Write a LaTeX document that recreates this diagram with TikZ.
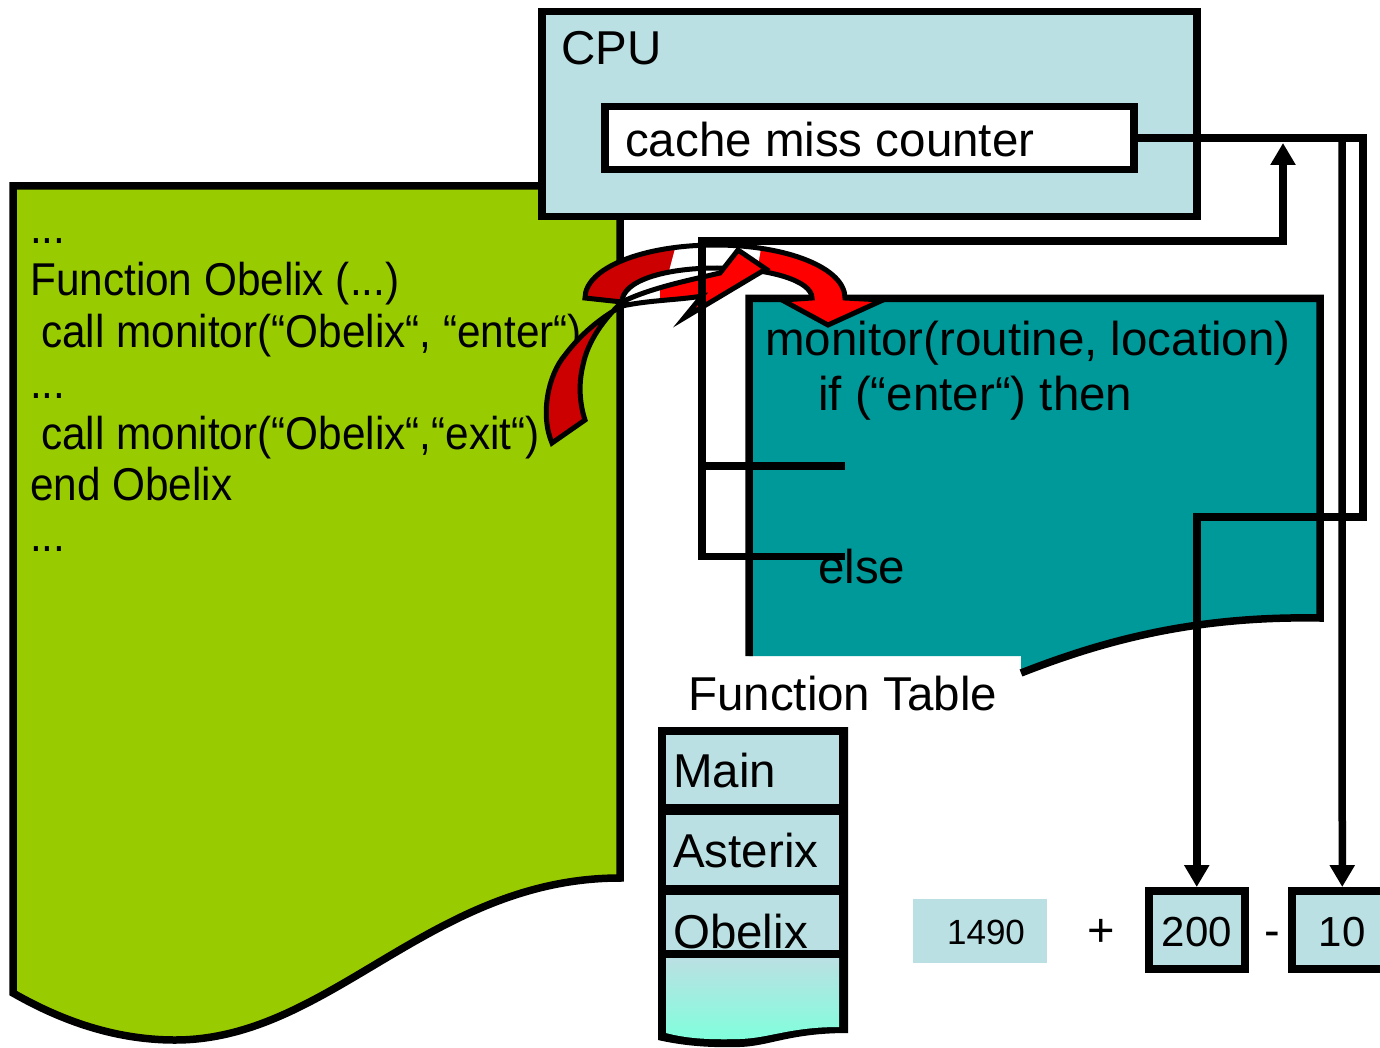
\documentclass[tikz,border=0pt]{standalone}
\usepackage{fontspec}
\usepackage{graphicx}
\setmainfont{Liberation Sans}
\usetikzlibrary{arrows.meta}
\definecolor{grn}{HTML}{99CC00}
\definecolor{tealc}{HTML}{009999}
\definecolor{lblue}{HTML}{BBE0E3}
\definecolor{dred}{HTML}{CC0000}
\definecolor{bred}{HTML}{FF0000}
\definecolor{aquac}{HTML}{80FFDC}
\newcommand\cdl[1]{\scalebox{0.92}[1]{#1}}
\begin{document}
\begin{tikzpicture}[x=1pt,y=-1pt,line join=miter,
  conn/.style={line width=7.5pt},
  tipa/.style={-{Triangle[length=22pt,width=24pt]}},
  txt/.style={inner sep=0pt,anchor=base west,font=\fontsize{47.5}{56}\selectfont},
  codetxt/.style={inner sep=0pt,anchor=base west,font=\fontsize{46}{52}\selectfont},
  numtxt/.style={inner sep=0pt,anchor=base,font=\fontsize{42}{48}\selectfont},
  boxst/.style={draw,line width=7.5pt,fill=lblue,inner sep=0pt,anchor=north west},
  cellst/.style={fill=lblue,inner sep=0pt,outer sep=0pt,anchor=north west,minimum width=173},
  aout/.style={draw=black,line width=5pt,line join=miter}]
\useasboundingbox (0,0) rectangle (1380,1048);

% green program document
\filldraw[fill=grn,line width=7.5pt] (13,186) -- (620,186) -- (620,878)
  .. controls (430,878) and (330,1040) .. (175,1040)
  .. controls (110,1040) and (55,1017) .. (13,993) -- cycle;

% CPU
\node[boxst,minimum width=655,minimum height=205] (cpu) at (538,8) {};
\node[txt] (cputxt) at (561,65) {CPU};
\node[boxst,fill=white,minimum width=529,minimum height=63] (counter) at (601,103) {};
\node[txt] (countertxt) at (625,157) {cache miss counter};

% monitor (teal)
\fill[tealc] (749,298.5) -- (1320,298.5) -- (1320,618)
  .. controls (1200,616) and (1110,638) .. (1021,673) -- (1021,656) -- (749,656) -- cycle;
\draw[line width=7.5pt] (749,656) -- (749,298.5) -- (1320,298.5) -- (1320,618)
  .. controls (1200,616) and (1110,638) .. (1021,673);
\node[txt] (mon) at (765,355) {monitor(routine, location)};
\node[txt] (ifl) at (818,410) {if (“enter“) then};
\node[txt] (els) at (818,583) {else};

% code text
\node[codetxt] (l1) at (30,244) {\cdl{...}};
\node[codetxt] (l2) at (30,296) {\cdl{Function Obelix (...)}};
\node[codetxt] (l3) at (41,347) {\cdl{call monitor(“Obelix“, “enter“)}};
\node[codetxt] (l4) at (30,398) {\cdl{...}};
\node[codetxt] (l5) at (41,449) {\cdl{call monitor(“Obelix“,“exit“)}};
\node[codetxt] (l6) at (30,500) {\cdl{end Obelix}};
\node[codetxt] (l7) at (30,551) {\cdl{...}};

% function table
\node[txt] (ftl) at (688,710) {Function Table};
\fill (658,727) -- (848,727) -- (848,1033) .. controls (790,1033) and (770,1046) .. (740,1047)
  .. controls (705,1048) and (680,1045) .. (658,1040) -- cycle;
\node[cellst,minimum height=69] (cmain) at (666,735) {};
\node[cellst,minimum height=70] (cast) at (666,815) {};
\node[cellst,minimum height=55] (cobe) at (666,895) {};
\shade[top color=lblue,bottom color=aquac] (666,958) -- (839,958) -- (839,1027)
  .. controls (790,1027) and (770,1038) .. (740,1039)
  .. controls (705,1040) and (685,1038) .. (666,1033) -- cycle;
\node[txt] (tmain) at (673,787) {Main};
\node[txt] (tast) at (673,867) {Asterix};
\node[txt] (tobe) at (673,948) {Obelix};
\fill (666,950) rectangle (839,958);

% values
\node[fill=lblue,inner sep=0pt,outer sep=0pt,anchor=north west,minimum width=134,minimum height=64] (v1490) at (913,899) {};
\node[inner sep=0pt,anchor=base,font=\fontsize{35}{40}\selectfont] (n1490) at (986,944) {1490};
\node[inner sep=0pt,anchor=base,font=\fontsize{47}{50}\selectfont] (plus) at (1101,946) {+};
\node[boxst,minimum width=96,minimum height=78] (b200) at (1145,887) {};
\node[numtxt] (n200) at (1197,946) {200};
\node[inner sep=0pt,anchor=base,font=\fontsize{47}{50}\selectfont] (minus) at (1272,946) {-};
\node[boxst,minimum width=101,minimum height=78] (b10) at (1288,887) {};
\node[numtxt] (n10) at (1342,946) {10};

% curved arrow A (enter)
\path[save path=\pA] (585,298) .. controls (585,268) and (643,245) .. (715,245)
  .. controls (787,245) and (845,268) .. (845,298)
  -- (883,300) -- (828,325) -- (782,300) -- (812,298)
  .. controls (812,281) and (770,268) .. (717,268)
  .. controls (664,268) and (622,281) .. (622,302) -- cycle;
\begin{scope}
  \path[clip,use path=\pA];
  \fill[bred] (560,230) rectangle (900,340);
  \fill[dred] (560,230) -- (680,230) -- (664,290) -- (560,310) -- cycle;
  \fill[white] (680,230) -- (764,230) -- (754,290) -- (664,290) -- cycle;
\end{scope}
\path[aout,use path=\pA];

% curved arrow B (exit)
\path[save path=\pB] (552,443) .. controls (540,415) and (548,375) .. (565,355)
  .. controls (580,335) and (600,318) .. (622,306)
  .. controls (650,300) and (680,300) .. (702,296)
  -- (684,318) -- (766,269) -- (738,250) -- (720,273)
  .. controls (690,280) and (650,288) .. (622,302)
  .. controls (605,318) and (588,340) .. (583,365)
  .. controls (578,385) and (580,405) .. (585,420) -- cycle;
\begin{scope}
  \path[clip,use path=\pB];
  \fill[bred] (600,230) rectangle (800,340);
  \fill[dred] (530,300) rectangle (623,460);
  \fill[white] (623,260) rectangle (660,320);
\end{scope}
\path[aout,use path=\pB];

% connectors
\coordinate (j1) at (1363,517);
\coordinate (k1) at (1342,138);
\coordinate (e1) at (845,556.5);
\coordinate (c1) at (702,241);
\coordinate (u1) at (1283,143);
\coordinate (m1) at (702,466);
\coordinate (m2) at (845,466);
\draw[conn,tipa] (counter.east) -| (j1) -| (b200.north);
\draw[conn,tipa] (k1) -- (b10.north);
\draw[conn,tipa] (e1) -| (c1) -| (u1);
\draw[conn] (m1) -- (m2);
\end{tikzpicture}
\end{document}
